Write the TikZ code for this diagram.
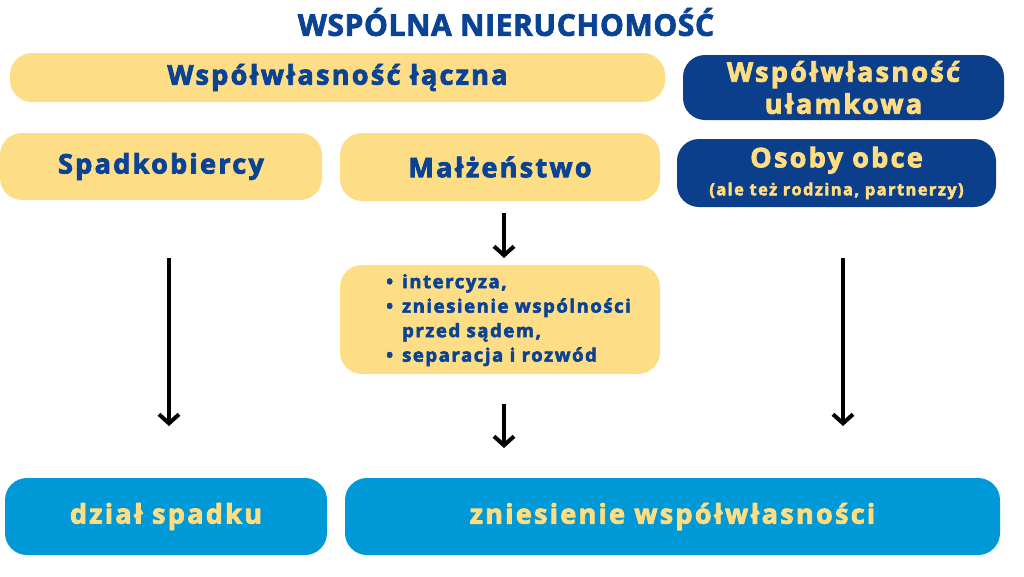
\documentclass[tikz,border=0pt]{standalone}
\usepackage{fontspec}
\setmainfont{Open Sans}[BoldFeatures={FakeBold=1.2}]
\newfontfamily\wide{Open Sans}[LetterSpace=8.5, BoldFeatures={FakeBold=3}]
\newfontfamily\ttl{Open Sans}[LetterSpace=2, BoldFeatures={FakeBold=2.5}]
\usetikzlibrary{arrows.meta}
\definecolor{ylw}{HTML}{FDDE87}
\definecolor{dblue}{HTML}{0B3F8C}
\definecolor{lblue}{HTML}{0099D8}
\definecolor{ytext}{HTML}{FFDD80}
\definecolor{btext}{HTML}{0B4394}
\tikzset{
  box/.style={rectangle, rounded corners=22pt, inner sep=0pt, align=center, font=\wide\bfseries\fontsize{27}{32}\selectfont},
  ybox/.style={box, fill=ylw, text=btext},
  dbox/.style={box, fill=dblue, text=ytext},
  lbox/.style={box, fill=lblue, text=ytext},
  arr/.style={line width=4pt, -{Straight Barb[length=9pt, width=20pt, line width=4pt]}},
}
\begin{document}
\begin{tikzpicture}[x=1pt, y=-1pt]
\useasboundingbox (0,0) rectangle (1024,576);
\node[font=\ttl\bfseries\fontsize{30}{32}\selectfont, text=btext] (title) at (506,22) {WSPÓLNA NIERUCHOMOŚĆ};
\node[ybox, minimum width=655pt, minimum height=49pt] (lacz) at (337.5,77.5) {Współwłasność łączna};
\node[dbox, minimum width=321pt, minimum height=65pt] (ulam) at (843.5,87.5) {Współwłasność\\ułamkowa};
\node[ybox, minimum width=322pt, minimum height=67pt] (spad) at (161,166.5) {Spadkobiercy};
\node[ybox, minimum width=320pt, minimum height=68pt] (malz) at (500,167) {Małżeństwo};
\node[dbox, minimum width=319pt, minimum height=68pt] (obce) at (836.5,173) {Osoby obce\\[-4pt]{\fontsize{16.5}{22}\selectfont(ale też rodzina, partnerzy)}};
\node[ybox, minimum width=320pt, minimum height=109pt] (list) at (500,319.5) {};
\node[anchor=west, font=\wide\bfseries\fontsize{18.5}{24.5}\selectfont, text=btext, inner sep=0pt] (listtext) at (386,320)
  {\begin{tabular}{@{}l@{\hspace{9pt}}l@{}}
  • & intercyza,\\
  • & zniesienie wspólności\\
    & przed sądem,\\
  • & separacja i rozwód
  \end{tabular}};
\node[lbox, minimum width=322pt, minimum height=77pt] (dzial) at (166,516.5) {dział spadku};
\node[lbox, minimum width=655pt, minimum height=77pt] (znies) at (672.5,516.5) {zniesienie współwłasności};
\coordinate (a1s) at (169,258); \coordinate (a1e) at (169,426);
\coordinate (a2s) at (504,213); \coordinate (a2e) at (504,258);
\coordinate (a3s) at (504,404); \coordinate (a3e) at (504,448);
\coordinate (a4s) at (843,258); \coordinate (a4e) at (843,426);
\draw[arr] (a1s) -- (a1e);
\draw[arr] (a2s) -- (a2e);
\draw[arr] (a3s) -- (a3e);
\draw[arr] (a4s) -- (a4e);
\end{tikzpicture}
\end{document}
